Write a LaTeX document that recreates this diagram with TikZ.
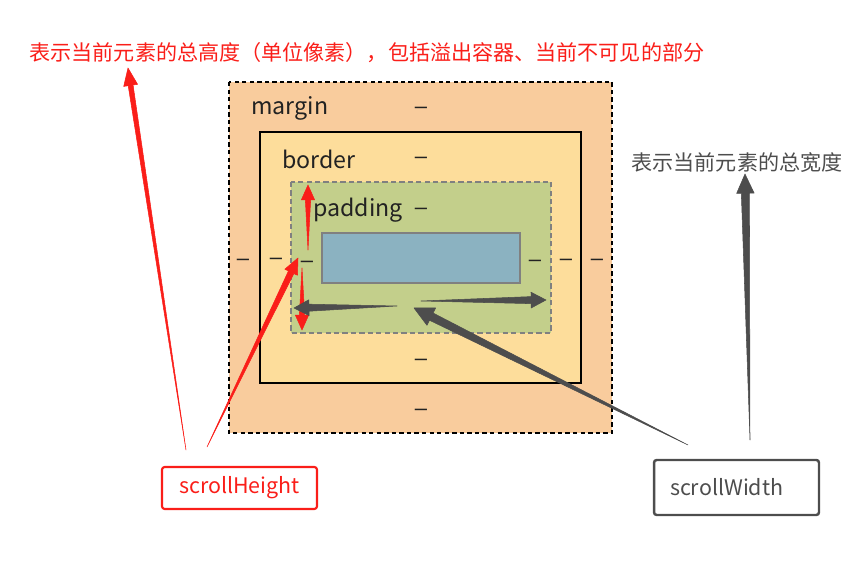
\documentclass[tikz,border=0pt]{standalone}
\usepackage{fontspec}
\setmainfont{Noto Sans CJK SC}
\newfontfamily\dashfont{Liberation Sans}
\usetikzlibrary{calc}
\definecolor{marginfill}{RGB}{249,204,157}
\definecolor{borderfill}{RGB}{253,221,155}
\definecolor{paddingfill}{RGB}{195,207,139}
\definecolor{contentfill}{RGB}{139,178,193}
\definecolor{boxgray}{RGB}{128,128,128}
\definecolor{notered}{RGB}{250,30,25}
\definecolor{notegray}{RGB}{77,77,77}
\definecolor{textdark}{RGB}{34,34,34}
\newcommand{\taperarrow}[6]{%
  \coordinate (neck) at ($(#3)!#6!(#2)$);
  \filldraw[#1, line width=0.3pt, line join=round] (#2)
    -- ($(neck)!#4!90:(#3)$) -- ($(neck)!#5!90:(#3)$) -- (#3)
    -- ($(neck)!#5!-90:(#3)$) -- ($(neck)!#4!-90:(#3)$) -- cycle;}

\begin{document}
\begin{tikzpicture}[x=0.02cm, y=-0.02cm, font=\fontsize{12}{14}\selectfont,
    boxlabel/.style={anchor=west, inner sep=0pt, text=textdark, font=\fontsize{13.2}{15}\selectfont},
    dashmark/.style={inner sep=0pt, text=textdark, font=\dashfont\fontsize{12.5}{14}\selectfont},
    note/.style={inner sep=0pt},
    tagbox/.style={draw, line width=1.2pt, rounded corners=1.5pt, minimum height=0.84cm, font=\fontsize{12.2}{14}\selectfont}]
    \useasboundingbox (0,0) rectangle (863,563);
    \filldraw[fill=marginfill, draw=black, line width=1.2pt, dash pattern=on 2.5pt off 1.8pt] (229,82) rectangle (612,433);
    \filldraw[fill=borderfill, draw=black, line width=1.4pt] (260,132) rectangle (581,383);
    \filldraw[fill=paddingfill, draw=boxgray, line width=1.2pt, dash pattern=on 3pt off 1.8pt] (291,182) rectangle (551,333);
    \filldraw[fill=contentfill, draw=boxgray, line width=1.4pt] (322,233) rectangle (520,283);
    \node[boxlabel] (marginlbl) at (251,108) {margin};
    \node[boxlabel] (borderlbl) at (282,159) {border};
    \node[boxlabel] (paddinglbl) at (313,210) {padding};
    \foreach \n/\x/\y in {mtop/421/110, btop/421/160, ptop/421/211, bbot/421/362, mbot/421/412,
        mleft/243/262, bleft/276/261, pleft/307/264, pright/535/263, bright/566/262, mright/597/262}
        \node[dashmark] (\n) at (\x,\y) {–};
    \node[note, text=notered] (heightnote) at (367,53) {表示当前元素的总高度（单位像素），包括溢出容器、当前不可见的部分};
    \node[note, text=notegray] (widthnote) at (737,163) {表示当前元素的总宽度};
    \node[tagbox, draw=notered, text=notered, minimum width=3.1cm] (scrollh) at (239.5,488) {scrollHeight};
    \node[tagbox, draw=notegray, text=notegray, line width=1.4pt, minimum height=1.1cm,
        inner xsep=0.32cm, text width=2.66cm, align=left] (scrollw) at (736.5,487.5) {scrollWidth};
    \coordinate (hA) at (186,450);
    \coordinate (hAtip) at (128,68);
    \coordinate (hB) at (207,447);
    \coordinate (hBtip) at (298,258);
    \coordinate (upfrom) at (308,250);
    \coordinate (uptip) at (308,185);
    \coordinate (downfrom) at (302,268);
    \coordinate (downtip) at (302,330);
    \coordinate (leftfrom) at (397,306);
    \coordinate (lefttip) at (294,308);
    \coordinate (rightfrom) at (421,301);
    \coordinate (righttip) at (546,300);
    \coordinate (wA) at (688,445);
    \coordinate (wAtip) at (414,308);
    \coordinate (wB) at (750,440);
    \coordinate (wBtip) at (745,174);
    \taperarrow{notered}{hA}{hAtip}{1.4pt}{4pt}{10pt}
    \taperarrow{notered}{hB}{hBtip}{1.7pt}{4pt}{9pt}
    \taperarrow{notered}{upfrom}{uptip}{1.5pt}{3.8pt}{8.5pt}
    \taperarrow{notered}{downfrom}{downtip}{1.5pt}{3.8pt}{8.5pt}
    \taperarrow{notegray}{leftfrom}{lefttip}{2pt}{4.5pt}{8.5pt}
    \taperarrow{notegray}{rightfrom}{righttip}{2pt}{4.5pt}{8.5pt}
    \taperarrow{notegray}{wA}{wAtip}{2.3pt}{5.5pt}{11pt}
    \taperarrow{notegray}{wB}{wBtip}{2.3pt}{5pt}{11pt}
\end{tikzpicture}
\end{document}
